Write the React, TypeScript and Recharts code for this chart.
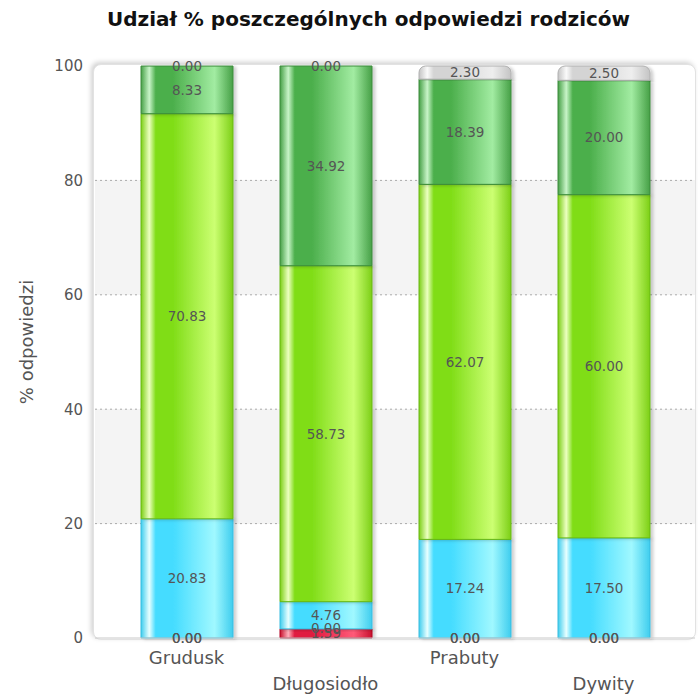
import React from 'react';
import {
  Bar,
  BarChart,
  CartesianGrid,
  LabelList,
  Rectangle,
  XAxis,
  YAxis,
} from 'recharts';

const categories = ['Grudusk', 'Długosiodło', 'Prabuty', 'Dywity'];
const czerwony = [0, 1.59, 0, 0];
const brak = [0, 0, 0, 0];
const niebieski = [20.83, 4.76, 17.24, 17.5];
const limonka = [70.83, 58.73, 62.07, 60.0];
const zielony = [8.33, 34.92, 18.39, 20.0];
const szary = [0, 0, 2.3, 2.5];
const yTicks = [0, 20, 40, 60, 80, 100];
const gridValues = [20, 40, 60, 80];

const data = categories.map((name, i) => ({
  name,
  czerwony: czerwony[i],
  brak: brak[i],
  niebieski: niebieski[i],
  limonka: limonka[i],
  zielony: zielony[i],
  szary: szary[i],
}));

const FONT = '"DejaVu Sans", Verdana, sans-serif';

// cylinder-like horizontal gradients
const grads: Record<string, { edge: string; hi: string; base: string; light: string; stroke: string }> = {
  czerwony: { edge: '#c8102e', hi: '#ffb0bc', base: '#e01a40', light: '#ff5a78', stroke: '#b00020' },
  brak: { edge: '#e08020', hi: '#ffe0b0', base: '#f09030', light: '#ffc070', stroke: '#c06010' },
  niebieski: { edge: '#3fcdee', hi: '#e8ffff', base: '#45dcff', light: '#a0f8ff', stroke: '#36bde0' },
  limonka: { edge: '#7ccf17', hi: '#ecffc0', base: '#80dd18', light: '#ccff72', stroke: '#68b812' },
  zielony: { edge: '#46a046', hi: '#c8f4c8', base: '#4caf4c', light: '#a2eca2', stroke: '#3c8c3c' },
  szary: { edge: '#c4c4c4', hi: '#fafafa', base: '#d4d4d4', light: '#eeeeee', stroke: '#b0b0b0' },
};

const order = ['czerwony', 'brak', 'niebieski', 'limonka', 'zielony', 'szary'];

const fmt = (v: unknown) => Number(v).toFixed(2);

// zero-valued segments get a hairline so their label is still placed, but no visible rect
const Segment = (props: any) => (props.height > 1 ? <Rectangle {...props} /> : <g />);

const CatTick = (props: any) => {
  const { x, y, payload, index } = props;
  const dy = index % 2 === 1 ? 44 : 18;
  return (
    <text x={x} y={y + dy} textAnchor="middle" fill="#555" fontSize={18} fontFamily={FONT}>
      {payload.value}
    </text>
  );
};

export default function App() {
  return (
    <div style={{ position: 'absolute', left: 0, top: 0, width: 698, height: 694, background: '#fff' }}>
      <div
        style={{
          position: 'absolute',
          left: 0,
          width: 737,
          top: 7,
          textAlign: 'center',
          fontFamily: FONT,
          fontWeight: 'bold',
          fontSize: 20,
          color: '#111',
        }}
      >
        Udział % poszczególnych odpowiedzi rodziców
      </div>
      <div
        style={{
          position: 'absolute',
          left: 93,
          top: 64,
          width: 601,
          height: 574,
          borderRadius: 8,
          border: '1px solid #e2e2e2',
          boxShadow: '-2px -2px 5px rgba(0,0,0,0.18)',
          background: '#fff',
        }}
      />
      <div style={{ position: 'absolute', left: 0, top: 0 }}>
        <BarChart
          width={698}
          height={694}
          data={data}
          margin={{ top: 66, right: 3, left: 0, bottom: 26 }}
          barSize={92}
        >
          <defs>
            {order.map((k) => {
              const g = grads[k];
              return (
                <linearGradient key={k} id={`g-${k}`} x1="0" y1="0" x2="1" y2="0">
                  <stop offset="0%" stopColor={g.edge} />
                  <stop offset="9%" stopColor={g.hi} />
                  <stop offset="16%" stopColor={g.base} />
                  <stop offset="35%" stopColor={g.base} />
                  <stop offset="80%" stopColor={g.light} />
                  <stop offset="100%" stopColor={g.edge} />
                </linearGradient>
              );
            })}
            <filter id="cien" x="-10%" y="-10%" width="130%" height="120%">
              <feDropShadow dx="3" dy="1" stdDeviation="1.5" floodColor="#000" floodOpacity="0.18" />
            </filter>
          </defs>
          <CartesianGrid
            vertical={false}
            horizontalValues={gridValues}
            horizontalFill={['transparent', '#f4f4f4']}
            stroke="#aaa"
            strokeDasharray="2 3"
          />
          <XAxis
            dataKey="name"
            height={30}
            padding={{ left: 22, right: 22 }}
            axisLine={{ stroke: '#c8c8c8' }}
            tickLine={false}
            tick={<CatTick />}
            interval={0}
          />
          <YAxis
            width={95}
            domain={[0, 100]}
            ticks={yTicks}
            axisLine={false}
            tickLine={false}
            tickSize={0}
            tickMargin={12}
            tick={{ fill: '#555', fontSize: 15, fontFamily: FONT }}
            label={{
              content: () => (
                <text
                  x={26}
                  y={342}
                  transform="rotate(-90, 26, 342)"
                  textAnchor="middle"
                  dominantBaseline="central"
                  fill="#555"
                  fontSize={18}
                  fontFamily={FONT}
                >
                  % odpowiedzi
                </text>
              ),
            }}
          />
          {order.map((k) => (
            <Bar
              key={k}
              dataKey={k}
              stackId="a"
              fill={`url(#g-${k})`}
              stroke={grads[k].stroke}
              strokeWidth={1}
              filter="url(#cien)"
              radius={k === 'szary' ? [7, 7, 0, 0] : 0}
              minPointSize={0.5}
              shape={Segment}
              isAnimationActive={false}
            >
              <LabelList
                dataKey={k}
                position="center"
                formatter={fmt}
                fill="#555"
                fontSize={13.5}
                fontFamily={FONT}
              />
            </Bar>
          ))}
        </BarChart>
      </div>
    </div>
  );
}
